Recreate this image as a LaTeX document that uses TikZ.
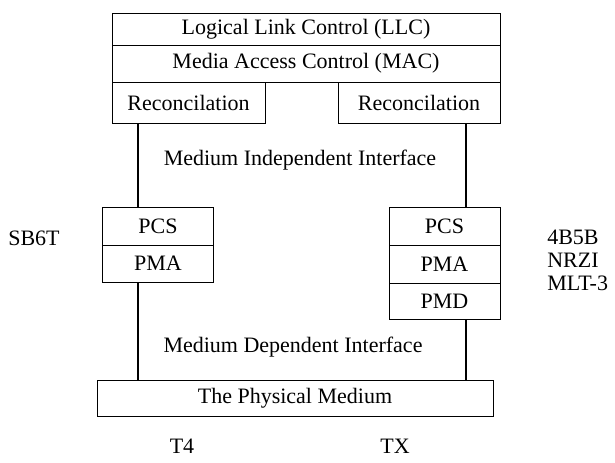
\documentclass[tikz,border=0pt]{standalone}
\usepackage{fontspec}
\setmainfont{Liberation Serif}
\usetikzlibrary{positioning}

\begin{document}
\begin{tikzpicture}[x=0.75pt, y=-0.75pt,
      layer/.style={rectangle, draw=black, line width=0.7pt, inner sep=1pt, font=\fontsize{16.5}{19}\selectfont, align=center},
      lbl/.style={inner sep=0pt, font=\fontsize{16.5}{19}\selectfont},
      link/.style={line width=1pt, black}
    ]
      \useasboundingbox (0,0) rectangle (615,462);

      % MAC sublayers
      \node[layer, minimum width=291pt, minimum height=24pt] (llc) at (306, 29) {Logical Link Control (LLC)};
      \node[layer, minimum width=291pt, minimum height=27.75pt] (mac) at (306, 63.5) {Media Access Control (MAC)};
      \node[layer, minimum width=114.75pt, minimum height=30.75pt] (recL) at (188.5, 102.5) {Reconcilation};
      \node[layer, minimum width=121.5pt, minimum height=30.75pt] (recR) at (419, 102.5) {Reconcilation};

      % PHY sublayers
      \node[layer, minimum width=83.25pt, minimum height=28.5pt] (pcsL) at (158, 226) {PCS};
      \node[layer, minimum width=83.25pt, minimum height=27.75pt] (pmaL) at (158, 263.5) {PMA};
      \node[layer, minimum width=83.25pt, minimum height=28.5pt] (pcsR) at (444.5, 226) {PCS};
      \node[layer, minimum width=83.25pt, minimum height=28.5pt] (pmaR) at (444.5, 264) {PMA};
      \node[layer, minimum width=83.25pt, minimum height=27pt] (pmdR) at (444.5, 301) {PMD};
      \node[layer, minimum width=297pt, minimum height=27pt] (phys) at (295, 398) {The Physical Medium};

      \coordinate (busL) at (138, 0);
      \coordinate (busR) at (466, 0);
      \draw[link] (recL.south -| busL) -- (pcsL.north -| busL);
      \draw[link] (recR.south -| busR) -- (pcsR.north -| busR);
      \draw[link] (pmaL.south -| busL) -- (phys.north -| busL);
      \draw[link] (pmdR.south -| busR) -- (phys.north -| busR);

      \node[lbl] (mii) at (300, 160) {Medium Independent Interface};
      \node[lbl] (mdi) at (293, 347) {Medium Dependent Interface};

      % encodings
      \node[lbl] (sb6t) at (34, 238) {SB6T};
      \node[lbl, anchor=west] (enc1) at (547, 237) {4B5B};
      \node[lbl, anchor=west] (enc2) at (547, 260) {NRZI};
      \node[lbl, anchor=west] (enc3) at (547, 283) {MLT-3};
      \node[lbl] (t4) at (182, 446) {T4};
      \node[lbl] (tx) at (395, 446) {TX};
    \end{tikzpicture}
\end{document}
